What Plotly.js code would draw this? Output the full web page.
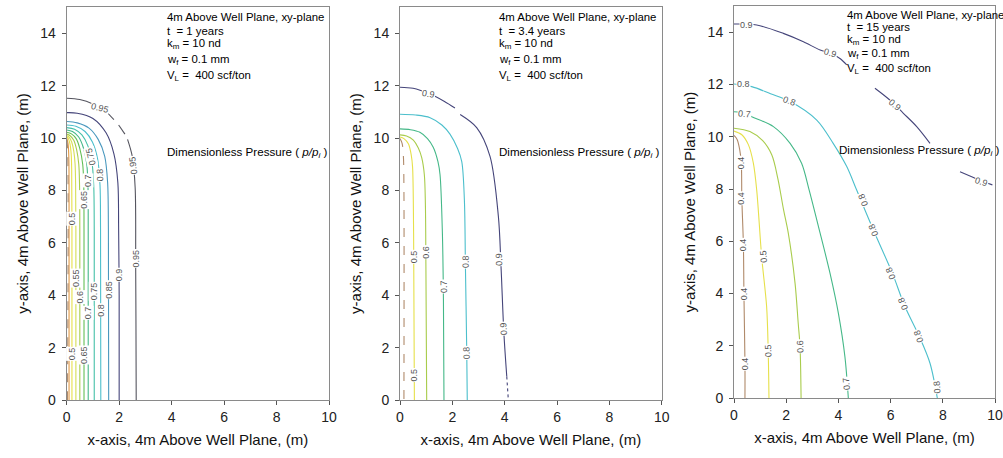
<!DOCTYPE html>
<html>
<head>
<meta charset="utf-8">
<script src="https://cdn.plot.ly/plotly-3.0.1.min.js"></script>
<style>
  html, body { margin: 0; padding: 0; background: #fff; }
  #chart { width: 1003px; height: 458px; }
</style>
</head>
<body>
<div id="chart"></div>
<script>
// Dimensionless pressure (p/pi) contours, 4 m above the well plane, xy-plane.
// Each contour is a polyline of (x, y) points in metres; null breaks a line.

// ---------- t = 1 year ----------
const yr1Levels = [0.95, 0.9, 0.85, 0.8, 0.75, 0.7, 0.65, 0.6, 0.55, 0.5, 0.45, 0.4];
const yr1X = [
  [0, 0.5, 1.0, 1.5, 1.8, null, 1.98, 2.22, null, 2.32, 2.5, 2.61, 2.63, 2.64, 2.65],
  [0, 0.4, 1.0, 1.5, 1.8, 1.95, 1.98, 2.0, 2.0],
  [0, 0.4, 0.85, 1.2, 1.45, 1.56, 1.59, 1.6],
  [0, 0.35, 0.7, 0.98, 1.18, 1.27, 1.29, 1.3],
  [0, 0.3, 0.58, 0.8, 0.96, 1.03, 1.05, 1.05],
  [0, 0.22, 0.45, 0.63, 0.76, 0.81, 0.82, 0.82],
  [0, 0.18, 0.36, 0.5, 0.61, 0.65, 0.66, 0.66],
  [0, 0.13, 0.27, 0.38, 0.46, 0.49, 0.5, 0.5],
  [0, 0.1, 0.19, 0.27, 0.32, 0.34, 0.35, 0.35],
  [0, 0.06, 0.12, 0.17, 0.19, 0.2, 0.2],
  [0, 0.05, 0.08, 0.09, 0.09],
  [0, 0.03, 0.03]
];
const yr1Y = [
  [11.52, 11.47, 11.3, 11.0, 10.7, null, 10.5, 10.15, null, 9.95, 9.3, 8.1, 5.1, 3.0, 0],
  [10.97, 10.95, 10.75, 10.2, 9.4, 8.3, 6.5, 4.0, 0],
  [10.63, 10.58, 10.38, 9.95, 9.3, 8.3, 6.5, 0],
  [10.5, 10.45, 10.25, 9.85, 9.2, 8.2, 6.5, 0],
  [10.4, 10.34, 10.12, 9.72, 9.1, 8.2, 6.5, 0],
  [10.31, 10.25, 10.05, 9.65, 9.05, 8.2, 6.5, 0],
  [10.22, 10.16, 9.98, 9.6, 9.0, 8.2, 6.5, 0],
  [10.15, 10.09, 9.92, 9.55, 9.0, 8.2, 6.5, 0],
  [10.1, 10.03, 9.85, 9.5, 9.0, 8.2, 6.5, 0],
  [10.05, 9.98, 9.8, 9.4, 8.8, 6.5, 0],
  [10.0, 9.8, 9.3, 8.0, 0],
  [9.95, 9.7, 0]
];
const yr1LabelText  = ['0.95', '0.95', '0.95', '0.9', '0.85', '0.8', '0.75', '0.7', '0.6', '0.55', '0.5', '0.65', '0.5', '0.65', '0.7', '0.8', '0.75'];
const yr1LabelX     = [1.27, 2.52, 2.64, 2.0, 1.6, 1.3, 1.05, 0.82, 0.5, 0.35, 0.2, 0.66, 0.2, 0.65, 0.81, 1.26, 0.93];
const yr1LabelY     = [11.15, 8.95, 5.4, 4.77, 4.2, 3.44, 4.16, 3.32, 3.94, 4.65, 1.78, 1.72, 6.94, 7.64, 8.4, 8.6, 9.3];
const yr1LabelAngle = [14, -96, -90, -90, -90, -90, -90, -90, -90, -90, -90, -90, -90, -90, -90, -92, -104];

// ---------- t = 3.4 years ----------
const yr34Levels = [0.9, 0.9, 0.8, 0.7, 0.6, 0.5, 0.4];
const yr34X = [
  [0, 0.5, 1.1, 1.7, 2.1, null, 2.3, 2.93, 3.44, 3.76, 3.86, 3.97, 4.08],
  [4.08, 4.14],
  [0, 0.6, 1.15, 1.6, 1.91, 2.2, 2.36, 2.46, 2.5, 2.55, 2.57],
  [0, 0.4, 0.76, 1.05, 1.27, 1.45, 1.53, 1.62, 1.66, 1.68],
  [0, 0.25, 0.51, 0.7, 0.83, 0.93, 0.97, 0.99, 1.02],
  [0, 0.15, 0.32, 0.43, 0.48, 0.52, 0.55],
  [0, 0.08, 0.13, 0.15, 0.15]
];
const yr34Y = [
  [11.94, 11.9, 11.7, 11.4, 11.15, null, 10.9, 10.4, 9.3, 7.0, 5.1, 2.55, 0.9],
  [0.9, 0],
  [10.91, 10.88, 10.78, 10.5, 10.15, 9.6, 9.1, 7.64, 5.09, 1.91, 0],
  [10.35, 10.32, 10.22, 9.98, 9.65, 9.1, 8.6, 6.36, 3.82, 0],
  [10.12, 10.08, 9.92, 9.62, 9.25, 8.6, 7.5, 5.09, 0],
  [10.04, 9.98, 9.78, 9.35, 8.9, 6.36, 0],
  [9.98, 9.8, 9.3, 8.0, 0]
];
const yr34LabelText  = ['0.9', '0.9', '0.9', '0.8', '0.8', '0.7', '0.6', '0.5', '0.5'];
const yr34LabelX     = [1.1, 3.8, 3.97, 2.5, 2.56, 1.66, 0.99, 0.52, 0.55];
const yr34LabelY     = [11.7, 5.37, 2.74, 5.28, 1.78, 4.33, 5.66, 5.47, 0.95];
const yr34LabelAngle = [10, -92, -93, -91, -91, -91, -90, -90, -90];

// ---------- t = 15 years ----------
const yr15Levels = [0.9, 0.8, 0.7, 0.6, 0.5, 0.4];
const yr15X = [
  [0, 0.87, 1.89, 2.66, 3.3, 3.7, 4.06, 4.32, null, 5.4, 5.98, 6.49, 7.0, 7.51, null, 8.66, 9.04, 9.55, 9.9],
  [0, 0.68, 1.4, 2.12, 3.17, 3.8, 4.32, 4.7, 5.34, 6.07, 6.55, 7.13, 7.51, 7.79],
  [0, 0.42, 0.68, 1.51, 2.15, 2.59, 2.88, 3.3, 3.68, 4.0, 4.25, 4.38],
  [0, 0.61, 1.1, 1.45, 1.68, 1.9, 2.08, 2.34, 2.46, 2.53, 2.57],
  [0, 0.3, 0.55, 0.74, 0.87, 1.06, 1.25, 1.31, 1.34],
  [0, 0.12, 0.22, 0.28, 0.3, 0.36, 0.38, 0.42, 0.42]
];
const yr15Y = [
  [14.32, 14.28, 13.96, 13.64, 13.32, 13.2, 13.0, 12.75, null, 11.86, 11.4, 10.9, 10.39, 9.75, null, 8.66, 8.5, 8.28, 8.16],
  [12.02, 11.92, 11.65, 11.37, 10.64, 9.75, 8.86, 7.96, 6.43, 4.77, 3.5, 2.29, 1.33, 0],
  [10.96, 10.9, 10.77, 10.39, 9.75, 8.99, 7.96, 6.31, 4.77, 3.24, 1.58, 0],
  [10.33, 10.2, 9.85, 9.3, 8.4, 7.2, 6.31, 4.39, 2.86, 1.96, 0],
  [10.22, 10.08, 9.7, 9.0, 7.96, 5.41, 3.5, 1.84, 0],
  [10.05, 9.9, 9.5, 8.99, 7.65, 5.86, 4.01, 1.33, 0]
];
const yr15LabelText  = ['0.9', '0.9', '0.9', '0.9', '0.8', '0.8', '0.8', '0.8', '0.8', '0.8', '0.8', '0.8',
                        '0.7', '0.7', '0.6', '0.5', '0.5', '0.4', '0.4', '0.4', '0.4', '0.4'];
const yr15LabelX     = [0.49, 3.7, 6.15, 9.5, 0.36, 2.12, 4.95, 5.34, 6.02, 6.49, 7.06, 7.77,
                        0.42, 4.32, 2.53, 1.12, 1.31, 0.27, 0.29, 0.36, 0.38, 0.42];
const yr15LabelY     = [14.28, 13.22, 11.2, 8.28, 12.01, 11.37, 7.58, 6.43, 4.77, 3.62, 2.35, 0.43,
                        10.88, 0.56, 1.96, 5.41, 1.8, 8.99, 7.65, 5.86, 4.01, 1.33];
const yr15LabelAngle = [0, 16, 40, 18, 0, 20, -112, -112, -112, -112, -110, -95,
                        6, -95, -93, -95, -92, -90, -90, -90, -90, -90];

// Run parameters shown in each panel
const runTimes = ['1', '3.4', '15'];
const xTitle = 'x-axis, 4m Above Well Plane, (m)';
const yTitle = 'y-axis, 4m Above Well Plane, (m)';

// ---------- styling ----------
const levelColors = {
  '0.4': '#b08a6a', '0.45': '#e39a45', '0.5': '#e6e04a', '0.55': '#d6df55',
  '0.6': '#a9cc4c', '0.65': '#63bf55', '0.7': '#45b888', '0.75': '#45c0a8',
  '0.8': '#4cbfcc', '0.85': '#4a98be', '0.9': '#45457a', '0.95': '#55555f'
};
const FONT = 'Liberation Sans, Arial, Helvetica, sans-serif';
const W = 1003, H = 458;

// Plot-area frames in pixels: [left, right, bottom, top]
const frames = [
  [66.7, 329.0, 400.0, 7.1],
  [400.0, 661.7, 400.0, 7.1],
  [734.0, 995.0, 398.0, 6.2]
];

const panels = [
  { levels: yr1Levels,  xs: yr1X,  ys: yr1Y,  lt: yr1LabelText,  lx: yr1LabelX,  ly: yr1LabelY,  la: yr1LabelAngle,
    infoX: 3.75, infoY: [14.62, 14.09, 13.6, 12.98, 12.37], dpX: 3.75, dpY: 9.44, dash: {'0.4': 'dash'} },
  { levels: yr34Levels, xs: yr34X, ys: yr34Y, lt: yr34LabelText, lx: yr34LabelX, ly: yr34LabelY, la: yr34LabelAngle,
    infoX: 3.71, infoY: [14.62, 14.09, 13.6, 12.98, 12.37], dpX: 3.71, dpY: 9.44, dash: {'0.4': 'dash'}, dotted: 1 },
  { levels: yr15Levels, xs: yr15X, ys: yr15Y, lt: yr15LabelText, lx: yr15LabelX, ly: yr15LabelY, la: yr15LabelAngle,
    infoX: 4.25, infoY: [14.66, 14.2, 13.72, 13.18, 12.6], dpX: 3.93, dpY: 9.46, dash: {} }
];

const traces = [];
const annotations = [];
const layout = {
  width: W, height: H,
  margin: { l: 0, r: 0, t: 0, b: 0 },
  paper_bgcolor: '#fff', plot_bgcolor: '#fff',
  showlegend: false,
  font: { family: FONT, color: '#222' },
  annotations: annotations
};

panels.forEach((p, i) => {
  const n = i + 1;
  const xa = n === 1 ? 'x' : 'x' + n;
  const ya = n === 1 ? 'y' : 'y' + n;
  const f = frames[i];

  p.levels.forEach((lev, k) => {
    const key = String(lev);
    let dash = p.dash[key] || 'solid';
    if (p.dotted === k) dash = 'dot';
    traces.push({
      type: 'scatter', mode: 'lines',
      x: p.xs[k], y: p.ys[k],
      xaxis: xa, yaxis: ya,
      connectgaps: false, hoverinfo: 'skip',
      line: { color: levelColors[key], width: 1.1, shape: 'spline', smoothing: 0.9, dash: dash }
    });
  });

  p.lt.forEach((t, k) => {
    annotations.push({
      xref: xa, yref: ya, x: p.lx[k], y: p.ly[k], text: t,
      showarrow: false, textangle: p.la[k], bgcolor: '#fff', borderpad: 0,
      font: { family: FONT, size: 9, color: '#555' }
    });
  });

  const info = [
    '4m Above Well Plane, xy-plane',
    't&nbsp; = ' + runTimes[i] + ' years',
    'k<sub>m</sub> = 10 nd',
    'w<sub>f</sub> = 0.1 mm',
    'V<sub>L</sub> =&nbsp; 400 scf/ton'
  ];
  info.forEach((t, k) => {
    annotations.push({
      xref: xa, yref: ya, x: p.infoX, y: p.infoY[k], text: t,
      xanchor: 'left', yanchor: 'middle', showarrow: false,
      font: { family: FONT, size: 11.4, color: '#000' }
    });
  });
  annotations.push({
    xref: xa, yref: ya, x: p.dpX, y: p.dpY,
    text: 'Dimensionless Pressure ( <i>p/p<sub>i</sub></i> )',
    xanchor: 'left', yanchor: 'middle', showarrow: false,
    font: { family: FONT, size: 11.6, color: '#000' }
  });

  const common = {
    showgrid: false, zeroline: false,
    showline: true, mirror: true, linecolor: '#8a8a8a', linewidth: 1,
    ticks: 'outside', ticklen: 4, tickcolor: '#555', tickwidth: 1,
    tickfont: { family: FONT, size: 14, color: '#222' }
  };
  layout['xaxis' + (n === 1 ? '' : n)] = Object.assign({}, common, {
    domain: [f[0] / W, f[1] / W], anchor: ya,
    range: [0, 10], tickmode: 'linear', tick0: 0, dtick: 2,
    title: { text: xTitle, font: { family: FONT, size: 15, color: '#111' }, standoff: 10 }
  });
  layout['yaxis' + (n === 1 ? '' : n)] = Object.assign({}, common, {
    domain: [(H - f[2]) / H, (H - f[3]) / H], anchor: xa,
    range: [0, 15], tickmode: 'linear', tick0: 0, dtick: 2,
    ticklabelstandoff: 3,
    title: { text: yTitle, font: { family: FONT, size: 15, color: '#111' }, standoff: 8 }
  });
});

Plotly.newPlot('chart', traces, layout, { staticPlot: true, displayModeBar: false });
</script>
</body>
</html>
